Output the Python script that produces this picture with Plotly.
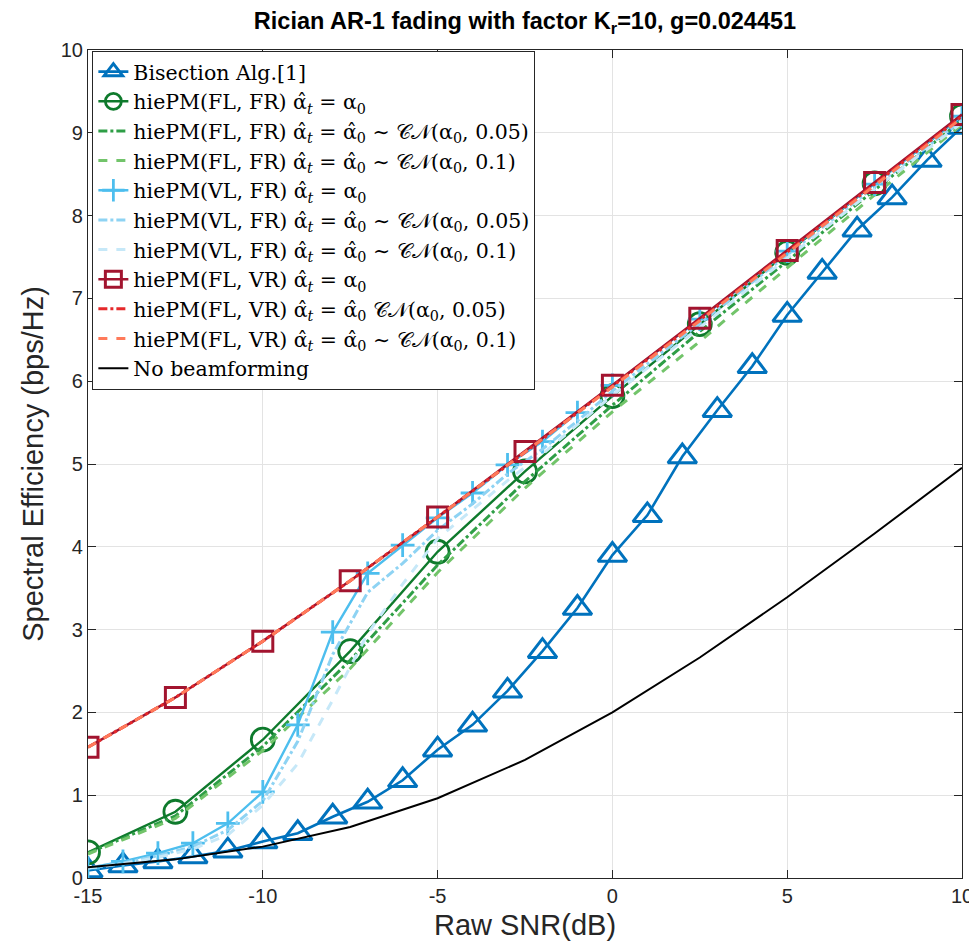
import plotly.graph_objects as go

# ---------------- data ----------------
snr_1db = [-15, -14, -13, -12, -11, -10, -9, -8, -7, -6, -5, -4, -3, -2, -1, 0,
           1, 2, 3, 4, 5, 6, 7, 8, 9, 10]
snr_25 = [-15, -12.5, -10, -7.5, -5, -2.5, 0, 2.5, 5, 7.5, 10]
snr_vl = [-15, -14, -13, -12, -11, -10, -9, -8, -7, -6, -5, -4, -3, -2, -1, 0,
          2.5, 5, 7.5, 10]

bisection = [0.09, 0.15, 0.20, 0.26, 0.33, 0.44, 0.54, 0.74, 0.92, 1.18, 1.55, 1.85,
             2.26, 2.74, 3.26, 3.90, 4.38, 5.09, 5.65, 6.18, 6.80, 7.32, 7.83, 8.22,
             8.67, 9.07]

fl_fr = [0.31, 0.80, 1.67, 2.74, 3.94, 4.91, 5.82, 6.69, 7.55, 8.39, 9.20]
fl_fr_005 = [0.30, 0.75, 1.59, 2.63, 3.78, 4.79, 5.71, 6.60, 7.45, 8.31, 9.15]
fl_fr_01 = [0.29, 0.72, 1.54, 2.53, 3.69, 4.71, 5.63, 6.48, 7.37, 8.25, 9.10]

vl_fr = [0.12, 0.20, 0.30, 0.42, 0.66, 1.04, 1.85, 2.97, 3.68, 4.02, 4.35, 4.65,
         4.99, 5.27, 5.62, 5.95, 6.75, 7.57, 8.38, 9.20]
vl_fr_005 = [0.12, 0.18, 0.27, 0.38, 0.58, 0.93, 1.65, 2.70, 3.45, 3.80, 4.20, 4.52,
             4.88, 5.18, 5.52, 5.88, 6.70, 7.52, 8.35, 9.15]
vl_fr_01 = [0.12, 0.17, 0.25, 0.35, 0.52, 0.88, 1.38, 2.15, 2.95, 3.55, 4.10, 4.45,
            4.80, 5.12, 5.48, 5.83, 6.65, 7.48, 8.32, 9.12]

fl_vr = [1.58, 2.18, 2.86, 3.59, 4.36, 5.15, 5.95, 6.76, 7.58, 8.40, 9.22]
fl_vr_005 = [1.58, 2.18, 2.86, 3.59, 4.36, 5.14, 5.94, 6.74, 7.56, 8.38, 9.20]
fl_vr_01 = [1.58, 2.18, 2.86, 3.59, 4.36, 5.14, 5.93, 6.73, 7.55, 8.36, 9.18]

no_bf = [0.131, 0.225, 0.379, 0.617, 0.963, 1.426, 2.0, 2.663, 3.391, 4.160, 4.954]

x_ticks = [-15, -10, -5, 0, 5, 10]
x_tick_text = ["-15", "-10", "-5", "0", "5", "10"]
y_ticks = [0, 1, 2, 3, 4, 5, 6, 7, 8, 9, 10]

# ---------------- labels ----------------
A = "α̂<sub><i>t</i></sub> = "
A0 = "α<sub>0</sub>"
AH0 = "α̂<sub>0</sub>"
CN = "𝒞𝒩"
lab = {
    "bis": "Bisection Alg.[1]",
    "flfr": "hiePM(FL, FR) " + A + A0,
    "flfr5": "hiePM(FL, FR) " + A + AH0 + " ∼ " + CN + "(" + A0 + ", 0.05)",
    "flfr1": "hiePM(FL, FR) " + A + AH0 + " ∼ " + CN + "(" + A0 + ", 0.1)",
    "vlfr": "hiePM(VL, FR) " + A + A0,
    "vlfr5": "hiePM(VL, FR) " + A + AH0 + " ∼ " + CN + "(" + A0 + ", 0.05)",
    "vlfr1": "hiePM(VL, FR) " + A + AH0 + " ∼ " + CN + "(" + A0 + ", 0.1)",
    "flvr": "hiePM(FL, VR) " + A + A0,
    "flvr5": "hiePM(FL, VR) " + A + AH0 + " " + CN + "(" + A0 + ", 0.05)",
    "flvr1": "hiePM(FL, VR) " + A + AH0 + " ∼ " + CN + "(" + A0 + ", 0.1)",
    "nobf": "No beamforming",
}

C_BLUE = "#0072BD"
C_DG = "#0E7A2C"
C_G5 = "#2E9E46"
C_G1 = "#72C46A"
C_LB = "#4DBEEE"
C_LB5 = "#8ED3F3"
C_LB1 = "#C6E8F8"
C_DR = "#A2142F"
C_R5 = "#E5282A"
C_R1 = "#FF7A5A"

fig = go.Figure()

fig.add_trace(go.Scatter(x=snr_1db, y=bisection, name=lab["bis"], mode="lines+markers",
                         line=dict(color=C_BLUE, width=2.6),
                         marker=dict(symbol="triangle-up-open", size=25, color=C_BLUE,
                                     line=dict(width=3, color=C_BLUE))))
fig.add_trace(go.Scatter(x=snr_25, y=fl_fr, name=lab["flfr"], mode="lines+markers",
                         line=dict(color=C_DG, width=2.4),
                         marker=dict(symbol="circle-open", size=23, color=C_DG,
                                     line=dict(width=2.8, color=C_DG))))
fig.add_trace(go.Scatter(x=snr_25, y=fl_fr_005, name=lab["flfr5"], mode="lines",
                         line=dict(color=C_G5, width=3, dash="dashdot")))
fig.add_trace(go.Scatter(x=snr_25, y=fl_fr_01, name=lab["flfr1"], mode="lines",
                         line=dict(color=C_G1, width=3, dash="dash")))
fig.add_trace(go.Scatter(x=snr_vl, y=vl_fr, name=lab["vlfr"], mode="lines+markers",
                         line=dict(color=C_LB, width=2.4),
                         marker=dict(symbol="cross-thin-open", size=17, color=C_LB,
                                     line=dict(width=2.8, color=C_LB))))
fig.add_trace(go.Scatter(x=snr_vl, y=vl_fr_005, name=lab["vlfr5"], mode="lines",
                         line=dict(color=C_LB5, width=3, dash="dashdot")))
fig.add_trace(go.Scatter(x=snr_vl, y=vl_fr_01, name=lab["vlfr1"], mode="lines",
                         line=dict(color=C_LB1, width=3, dash="dash")))
fig.add_trace(go.Scatter(x=snr_25, y=fl_vr, name=lab["flvr"], mode="lines+markers",
                         line=dict(color=C_DR, width=2.6),
                         marker=dict(symbol="square-open", size=20, color=C_DR,
                                     line=dict(width=3, color=C_DR))))
fig.add_trace(go.Scatter(x=snr_25, y=fl_vr_005, name=lab["flvr5"], mode="lines",
                         line=dict(color=C_R5, width=3, dash="dashdot")))
fig.add_trace(go.Scatter(x=snr_25, y=fl_vr_01, name=lab["flvr1"], mode="lines",
                         line=dict(color=C_R1, width=3, dash="dash")))
fig.add_trace(go.Scatter(x=snr_25, y=no_bf, name=lab["nobf"], mode="lines",
                         line=dict(color="black", width=2)))

axis_common = dict(
    showline=True, linecolor="#262626", linewidth=1.2, mirror="ticks",
    ticks="inside", ticklen=8, tickcolor="#262626", tickwidth=1.2,
    showgrid=True, gridcolor="#E3E3E3", gridwidth=1, zeroline=False,
    tickfont=dict(family="Liberation Sans, Arial, sans-serif", size=20, color="#262626"),
)

fig.update_xaxes(range=[-15, 10], tickvals=x_ticks, ticktext=x_tick_text,
                 title=dict(text="Raw SNR(dB)", standoff=8,
                            font=dict(family="Liberation Sans, Arial, sans-serif", size=29, color="#262626")),
                 **axis_common)
fig.update_yaxes(range=[0, 10], tickvals=y_ticks,
                 title=dict(text="Spectral Efficiency (bps/Hz)", standoff=8,
                            font=dict(family="Liberation Sans, Arial, sans-serif", size=29, color="#262626")),
                 **axis_common)

fig.update_layout(
    width=977, height=951,
    margin=dict(l=80, r=15, t=42, b=81),
    paper_bgcolor="white", plot_bgcolor="white",
    title=dict(text="<b>Rician AR-1 fading with factor K<sub>r</sub>=10, g=0.024451</b>",
               x=0.5, xref="paper", xanchor="center", y=0.995, yanchor="top",
               font=dict(family="Liberation Sans, Arial", size=23.5, color="black")),
    legend=dict(x=0.005, y=0.999, xanchor="left", yanchor="top",
                bgcolor="white", bordercolor="#262626", borderwidth=1,
                font=dict(family="DejaVu Serif, serif", size=20.5, color="black"),
                tracegroupgap=0, itemwidth=30),
    showlegend=True,
)

fig.write_html("out.html")
